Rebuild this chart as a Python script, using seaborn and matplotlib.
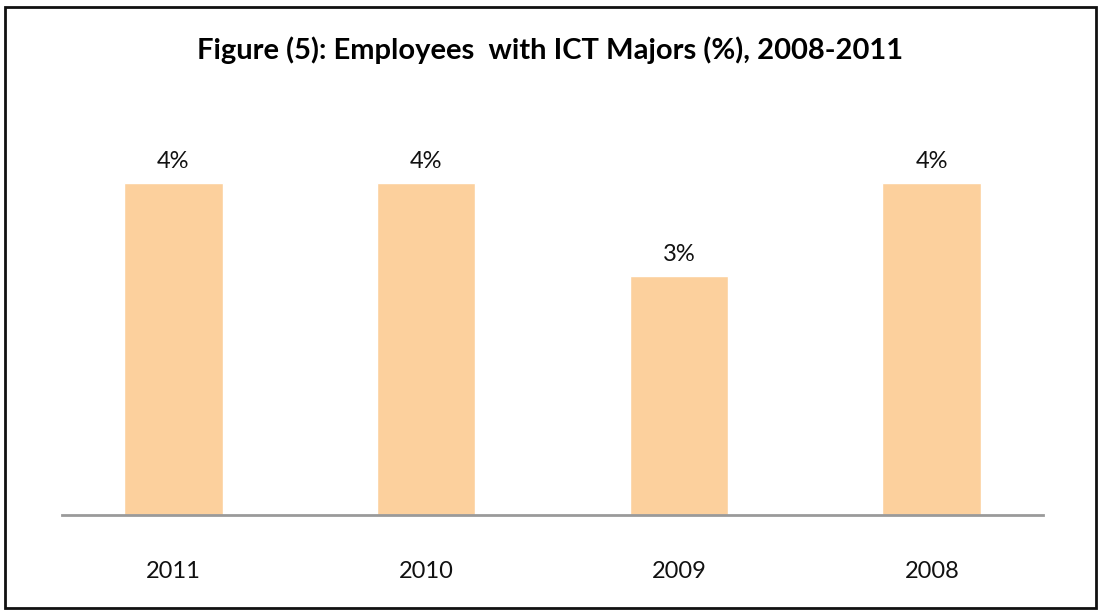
import matplotlib
matplotlib.use('Agg')
import matplotlib.pyplot as plt
import matplotlib.patches as mpatches
import pandas as pd
import seaborn as sns

sns.set_style('white')
plt.rcParams['font.family'] = ['Lato', 'DejaVu Sans']

# data
years = ['2011', '2010', '2009', '2008']
share = [4.0, 4.0, 2.88, 4.0]   # % of employees
labels = ['4%', '4%', '3%', '4%']

df = pd.DataFrame({'year': years, 'share': share})

W, H = 1101, 614
fig = plt.figure(figsize=(W / 100, H / 100), dpi=100)
ax = fig.add_axes([62 / W, (H - 515) / H, (1043 - 62) / W, (515 - 100) / H])

sns.barplot(data=df, x='year', y='share', color='#FCD09D', saturation=1,
            width=0.39, ax=ax)

for p, lab in zip(ax.patches, labels):
    ax.annotate(lab, (p.get_x() + p.get_width() / 2, p.get_height()),
                xytext=(0, 8), textcoords='offset points',
                ha='center', va='bottom', fontsize=17, color='#111111')

ax.set_xlim(-0.44, 3.44)
ax.set_ylim(0, 5.0)
ax.set_xlabel('')
ax.set_ylabel('')
ax.set_yticks([])
ax.tick_params(axis='x', length=0, pad=33, labelsize=17, labelcolor='#111111')
for s in ['top', 'right', 'left']:
    ax.spines[s].set_visible(False)
ax.spines['bottom'].set_color('#9A9A9A')
ax.spines['bottom'].set_linewidth(2)

fig.text(0.5, 1 - 50 / H, 'Figure (5): Employees  with ICT Majors (%), 2008-2011',
         ha='center', va='center', fontsize=21, fontweight='bold', color='#000000')

# outer frame
fig.patches.append(mpatches.Rectangle((5 / W, 6 / H), 1091 / W, 601 / H,
                                      transform=fig.transFigure, fill=False,
                                      edgecolor='#111111', linewidth=2))

fig.savefig('out.png', dpi=100)
